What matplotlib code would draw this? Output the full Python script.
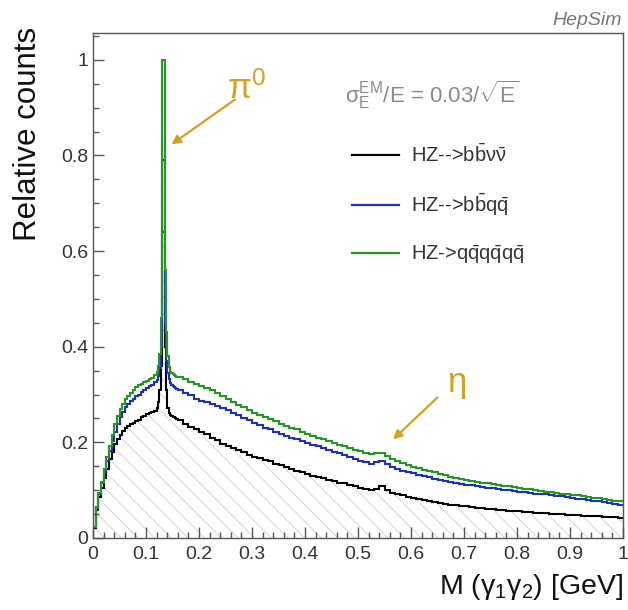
import numpy as np
import matplotlib
matplotlib.use("Agg")
import matplotlib.pyplot as plt
from matplotlib.ticker import MultipleLocator, FuncFormatter

plt.rcParams['font.family'] = ['Liberation Sans', 'DejaVu Sans']
plt.rcParams['mathtext.fontset'] = 'custom'
plt.rcParams['mathtext.rm'] = 'Liberation Sans'
plt.rcParams['mathtext.it'] = 'Liberation Sans:italic'
plt.rcParams['mathtext.bf'] = 'Liberation Sans:bold'
plt.rcParams['hatch.linewidth'] = 0.6

# ---- bin edges: fine near the pi0 peak ----
edges = np.round(np.concatenate([
    np.linspace(0.0, 0.12, 25)[:-1],
    np.linspace(0.12, 0.16, 17)[:-1],
    np.linspace(0.16, 1.0, 85)]), 5)

# ---- HZ --> b bbar nu nubar (black) ----
black_low = [0.020, 0.058, 0.085, 0.105, 0.125, 0.145, 0.165, 0.180, 0.197, 0.208,
             0.216, 0.223, 0.229, 0.235, 0.239, 0.241, 0.245, 0.247, 0.252, 0.256,
             0.259, 0.262, 0.263, 0.266]
black_peak = [0.272, 0.285, 0.310, 0.360, 0.790, 0.790, 0.400, 0.310,
              0.272, 0.262, 0.258, 0.256, 0.254, 0.252, 0.250, 0.248]
black_high = [0.246, 0.238, 0.232, 0.228, 0.222, 0.217, 0.210, 0.205, 0.197, 0.193,
              0.188, 0.183, 0.179, 0.174, 0.170, 0.167, 0.163, 0.160, 0.155, 0.152,
              0.148, 0.145, 0.141, 0.137, 0.133, 0.130, 0.127, 0.125, 0.121, 0.119,
              0.116, 0.114, 0.111, 0.108, 0.105, 0.102, 0.101, 0.103, 0.108, 0.100,
              0.094, 0.091, 0.089, 0.086, 0.084, 0.082, 0.080, 0.078, 0.076, 0.074,
              0.072, 0.070, 0.068, 0.067, 0.066, 0.065, 0.063, 0.062, 0.061, 0.060,
              0.059, 0.058, 0.057, 0.056, 0.056, 0.055, 0.054, 0.053, 0.052, 0.052,
              0.051, 0.050, 0.050, 0.049, 0.049, 0.048, 0.047, 0.046, 0.046, 0.045,
              0.044, 0.044, 0.043, 0.042]

# ---- HZ --> b bbar q qbar (blue) ----
blue_low = [0.022, 0.062, 0.092, 0.115, 0.138, 0.160, 0.182, 0.203, 0.222, 0.238,
            0.252, 0.264, 0.273, 0.280, 0.286, 0.291, 0.296, 0.300, 0.305, 0.309,
            0.313, 0.317, 0.320, 0.326]
blue_peak = [0.330, 0.338, 0.355, 0.400, 0.640, 0.640, 0.450, 0.370,
             0.345, 0.332, 0.325, 0.320, 0.317, 0.315, 0.313, 0.311]
blue_high = [0.309, 0.303, 0.298, 0.291, 0.287, 0.284, 0.280, 0.276, 0.272, 0.268,
             0.262, 0.257, 0.251, 0.246, 0.241, 0.236, 0.231, 0.227, 0.222, 0.218,
             0.214, 0.210, 0.206, 0.203, 0.199, 0.195, 0.192, 0.188, 0.184, 0.180,
             0.177, 0.173, 0.169, 0.166, 0.162, 0.158, 0.155, 0.158, 0.161, 0.155,
             0.149, 0.145, 0.141, 0.138, 0.135, 0.132, 0.129, 0.127, 0.124, 0.122,
             0.119, 0.117, 0.115, 0.113, 0.111, 0.110, 0.108, 0.107, 0.105, 0.104,
             0.102, 0.101, 0.100, 0.098, 0.097, 0.096, 0.095, 0.093, 0.092, 0.091,
             0.089, 0.088, 0.087, 0.085, 0.084, 0.082, 0.081, 0.080, 0.078, 0.077,
             0.075, 0.074, 0.072, 0.070]

# ---- HZ -> q qbar q qbar q qbar (green) ----
green_low = [0.024, 0.065, 0.095, 0.118, 0.145, 0.170, 0.193, 0.215, 0.238, 0.256,
             0.270, 0.281, 0.290, 0.297, 0.304, 0.310, 0.315, 0.320, 0.323, 0.326,
             0.329, 0.332, 0.335, 0.340]
green_peak = [0.348, 0.360, 0.385, 0.460, 1.000, 1.000, 0.560, 0.430,
              0.380, 0.358, 0.348, 0.344, 0.342, 0.340, 0.338, 0.337]
green_high = [0.336, 0.332, 0.327, 0.321, 0.318, 0.314, 0.309, 0.303, 0.297, 0.291,
              0.285, 0.278, 0.273, 0.267, 0.262, 0.257, 0.253, 0.248, 0.244, 0.239,
              0.235, 0.231, 0.227, 0.222, 0.218, 0.214, 0.210, 0.206, 0.203, 0.199,
              0.195, 0.192, 0.188, 0.185, 0.181, 0.178, 0.175, 0.177, 0.178, 0.172,
              0.166, 0.161, 0.157, 0.152, 0.149, 0.146, 0.143, 0.140, 0.137, 0.134,
              0.131, 0.128, 0.126, 0.123, 0.121, 0.119, 0.117, 0.116, 0.114, 0.112,
              0.111, 0.109, 0.108, 0.106, 0.105, 0.103, 0.102, 0.100, 0.099, 0.097,
              0.096, 0.095, 0.093, 0.092, 0.090, 0.089, 0.087, 0.086, 0.084, 0.083,
              0.081, 0.080, 0.078, 0.077]

labels = [r'HZ-->$\mathrm{b\bar{b}\nu\bar{\nu}}$',
          r'HZ-->$\mathrm{b\bar{b}q\bar{q}}$',
          r'HZ->$\mathrm{q\bar{q}q\bar{q}q\bar{q}}$']
colors = ['#000000', '#1f2fc4', '#229a22']

black = np.array(black_low + black_peak + black_high)
blue = np.array(blue_low + blue_peak + blue_high)
green = np.array(green_low + green_peak + green_high)

fig = plt.figure(figsize=(6.28, 6.10), dpi=100)
ax = fig.add_axes([93 / 628, 72 / 610, 530 / 628, 505 / 610])

# hatched area under black histogram
ax.stairs(black, edges, fill=True, facecolor='none', edgecolor='#cccccc',
          hatch='\\\\', linewidth=0)

hs = []
for vals, c, lab in [(black, colors[0], labels[0]), (blue, colors[1], labels[1]),
                     (green, colors[2], labels[2])]:
    h = ax.stairs(vals, edges, color=c, linewidth=1.5, label=lab, baseline=None)
    hs.append(h)

ax.set_xlim(0, 1)
ax.set_ylim(0, 1.056)

ax.xaxis.set_major_locator(MultipleLocator(0.1))
ax.xaxis.set_minor_locator(MultipleLocator(0.02))
ax.yaxis.set_major_locator(MultipleLocator(0.2))
ax.yaxis.set_minor_locator(MultipleLocator(0.05))
fmt = FuncFormatter(lambda v, p: '%g' % round(v, 3))
ax.xaxis.set_major_formatter(fmt)
ax.yaxis.set_major_formatter(fmt)
ax.tick_params(which='both', direction='in', top=False, right=False,
               colors='#555555', labelcolor='#333333', labelsize=14)
ax.tick_params(which='major', length=8, width=1)
ax.tick_params(which='minor', length=4.5, width=1)
ax.tick_params(axis='x', pad=6)
for s in ax.spines.values():
    s.set_color('#555555')
    s.set_linewidth(1.0)

ax.set_ylabel('Relative counts', fontsize=22.5, color='#111111', loc='top')
ax.yaxis.set_label_coords(-0.094, 1.012)
ax.set_xlabel(r'M ($\mathrm{\gamma_{1}\gamma_{2}}$) [GeV]', fontsize=20.5,
              color='#111111', loc='right')
ax.xaxis.set_label_coords(1.0, -0.068)

leg = ax.legend(handles=hs, loc='upper left', bbox_to_anchor=(0.455, 0.818),
                frameon=False, fontsize=14.5, handlelength=2.3, handletextpad=0.6,
                labelspacing=1.25)
for t in leg.get_texts():
    t.set_color('#333333')
for l in leg.get_lines():
    l.set_linewidth(1.6)

ax.text(0.476, 0.927, r'$\mathrm{\sigma_{E}^{EM}}$/E = 0.03/$\mathrm{\sqrt{E}}$',
        fontsize=16, color='#8a8a8a', va='center', ha='left')

gold = '#d6a21c'
ax.text(0.29, 0.94, r'$\mathrm{\pi^{0}}$', fontsize=25, color=gold,
        ha='center', va='center')
ax.annotate('', xy=(0.148, 0.823), xytext=(0.268, 0.917),
            arrowprops=dict(arrowstyle='-|>', color=gold, lw=1.6,
                            mutation_scale=13, shrinkA=0, shrinkB=0))
ax.text(0.685, 0.322, r'$\mathrm{\eta}$', fontsize=25, color=gold,
        ha='center', va='center')
ax.annotate('', xy=(0.566, 0.206), xytext=(0.650, 0.294),
            arrowprops=dict(arrowstyle='-|>', color=gold, lw=1.6,
                            mutation_scale=13, shrinkA=0, shrinkB=0))

fig.text(0.99, 0.967, 'HepSim', fontsize=14, style='italic', color='#777777',
         ha='right', va='center')

fig.savefig('out.png', dpi=100)
